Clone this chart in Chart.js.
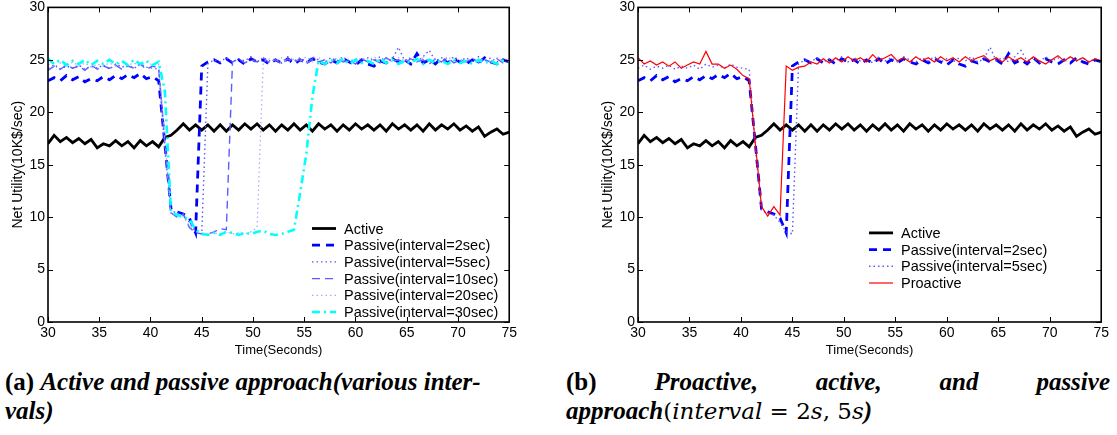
<!DOCTYPE html>
<html lang="en">
<head>
    <meta charset="UTF-8">
    <title>Net Utility - Active, Passive and Proactive</title>
    <script src="https://cdn.jsdelivr.net/npm/chart.js"></script>
    <style>
        body {
            margin: 0;
            background: #fff;
            width: 1117px;
            height: 435px;
            position: relative;
            overflow: hidden;
        }
        .chart-box {
            position: absolute;
            top: -4px;
            width: 520px;
            height: 364px;
        }
        #boxA { left: 0; }
        #boxB { left: 590px; width: 522px; }
        .caption {
            position: absolute;
            font-family: "Liberation Serif", "Times New Roman", serif;
            font-size: 25px;
            font-weight: bold;
            line-height: 29px;
            color: #000;
        }
        #capA { left: 5px; top: 367px; }
        #capB { left: 566px; top: 367px; width: 544px; }
        #capB .first { text-align: justify; text-align-last: justify; }
        .math { font-weight: normal; font-family: "DejaVu Serif", serif; font-size: 23px; }
    </style>
</head>
<body>

    <div class="chart-box" id="boxA"><canvas id="chartA"></canvas></div>
    <div class="chart-box" id="boxB"><canvas id="chartB"></canvas></div>

    <div class="caption" id="capA">(a) <i>Active and passive approach(various inter-<br>vals)</i></div>
    <div class="caption" id="capB">
        <div class="first">(b) <i>Proactive, active, and passive</i></div>
        <div><i>approach</i><span class="math">(<i>interval</i> = 2<i>s</i>, 5<i>s</i></span><i>)</i></div>
    </div>

    <script>
        // sample times (seconds)
        const times = [30,30.6,31.2,31.8,32.4,33,33.6,34.2,34.8,35.4,
            36,36.6,37.2,37.8,38.4,39,39.6,40.2,40.8,41.4,
            42,42.6,43.2,43.8,44.4,45,45.6,46.2,46.8,47.4,
            48,48.6,49.2,49.8,50.4,51,51.6,52.2,52.8,53.4,
            54,54.6,55.2,55.8,56.4,57,57.6,58.2,58.8,59.4,
            60,60.6,61.2,61.8,62.4,63,63.6,64.2,64.8,65.4,
            66,66.6,67.2,67.8,68.4,69,69.6,70.2,70.8,71.4,
            72,72.6,73.2,73.8,74.4,75];

        // net utility (10K$/sec)
        const active = [17.0,17.8,17.2,17.6,17.1,17.5,17.0,17.4,16.6,17.0,
            16.8,17.3,16.8,17.2,16.6,17.3,16.8,17.2,16.7,17.6,
            17.8,18.3,18.9,18.3,18.8,18.3,18.8,18.2,18.8,18.2,
            18.8,18.3,18.9,18.4,18.9,18.3,18.8,18.2,18.8,18.3,
            18.9,18.3,18.8,18.2,18.9,18.4,18.8,18.2,18.8,18.3,
            18.9,18.4,18.8,18.3,18.8,18.2,18.9,18.4,18.8,18.3,
            18.8,18.2,18.9,18.3,18.8,18.4,18.9,18.3,18.7,18.2,
            18.6,17.7,18.1,18.4,17.9,18.1];

        const passive2 = [23.0,23.3,23.0,23.5,23.1,23.4,22.9,23.2,23.0,23.4,
            23.1,23.5,23.2,23.6,23.3,23.7,23.2,23.4,23.0,17.0,
            10.8,10.5,10.3,9.9,8.5,24.4,24.8,25.0,24.7,25.1,
            24.7,25.0,24.6,25.1,24.8,25.0,24.6,25.0,24.7,25.1,
            24.6,25.0,24.7,25.1,24.8,24.6,25.0,24.7,25.1,24.8,
            24.5,25.0,24.6,24.4,24.9,24.7,25.1,24.8,25.0,24.6,
            25.6,24.7,25.0,24.6,25.2,24.7,25.1,24.8,24.6,25.0,
            24.7,25.2,24.8,24.6,25.0,24.8];

        const passive5 = [24.2,24.5,24.1,24.4,24.2,24.5,24.1,24.4,24.2,24.5,
            24.1,24.6,24.3,24.5,24.2,24.6,24.3,24.2,24.1,16.5,
            10.6,10.4,10.2,9.5,8.6,8.4,24.6,25.0,24.8,25.2,
            24.8,25.1,24.9,25.3,24.8,25.2,24.9,25.1,24.7,25.3,
            24.9,25.2,24.8,25.3,25.0,24.8,25.2,24.9,25.3,24.8,
            25.1,24.8,25.2,24.9,25.3,24.8,25.1,26.2,24.9,25.2,
            24.8,25.3,25.9,24.9,25.2,24.8,25.3,24.9,25.2,24.8,
            25.3,24.9,25.2,24.8,25.1,24.9];

        const passive10 = [24.0,24.4,24.1,24.5,24.2,24.4,24.0,24.5,24.1,24.4,
            24.2,24.5,24.1,24.4,24.2,24.6,24.1,24.4,24.2,17.2,
            10.4,10.0,10.3,9.0,8.5,8.4,8.4,8.6,8.9,8.8,
            24.8,25.1,24.7,25.0,24.8,25.2,24.7,25.0,24.6,25.1,
            24.8,25.0,24.6,25.1,24.8,25.0,24.7,25.2,24.8,25.0,
            24.6,25.1,24.8,25.0,24.7,25.2,24.8,25.0,24.7,25.1,
            24.8,25.0,24.6,25.1,24.8,25.2,24.7,25.0,24.8,25.1,
            24.7,25.0,24.8,25.1,24.7,24.9];

        const passive20 = [24.6,24.3,24.7,24.4,24.8,24.4,24.7,24.3,24.6,24.4,
            24.7,24.4,24.8,24.5,24.7,24.4,24.8,24.5,24.6,17.5,
            10.3,10.2,10.0,9.2,8.6,8.5,8.4,8.5,8.4,8.6,
            8.4,8.5,8.4,8.6,9.0,24.8,25.1,24.9,25.2,24.8,
            25.1,24.9,25.3,24.8,25.2,25.0,24.8,25.2,24.9,25.1,
            24.8,25.2,24.9,25.3,24.9,25.1,24.8,25.2,24.9,25.1,
            24.8,25.2,24.9,25.1,24.8,25.3,24.9,25.1,24.8,25.2,
            24.9,25.1,24.8,25.2,24.9,25.0];

        const passive30 = [25.1,24.6,25.0,24.5,24.9,24.6,25.0,24.5,24.9,24.6,
            25.0,24.6,24.9,24.5,25.0,24.6,24.9,24.5,24.8,22.0,
            10.5,10.2,10.0,9.8,8.8,8.4,8.3,8.5,8.3,8.6,
            8.5,8.3,8.5,8.4,8.6,8.7,8.4,8.3,8.4,8.6,
            8.8,12.3,16.0,21.5,24.9,24.6,25.0,24.7,25.1,24.6,
            25.0,24.7,24.9,24.6,25.1,24.7,25.0,24.6,24.9,24.7,
            25.1,24.6,25.0,24.7,24.9,24.6,25.0,24.7,24.9,24.6,
            25.0,24.7,24.9,24.6,24.9,24.8];

        const proactive = [25.2,24.6,24.9,24.5,24.8,24.4,24.8,24.2,24.5,24.8,
            24.6,25.8,24.6,24.6,24.2,24.5,24.1,23.5,23.2,17.0,
            11.0,10.1,11.0,10.2,24.4,24.0,24.3,24.4,24.8,24.6,
            25.1,24.7,25.2,24.8,25.3,24.9,25.2,24.8,25.5,24.9,
            25.2,25.5,24.9,25.2,24.8,25.3,24.9,25.2,24.8,25.3,
            24.9,25.2,24.8,25.3,24.9,25.2,25.4,24.9,25.2,24.8,
            25.3,24.9,25.2,24.8,25.3,24.9,24.6,25.0,25.4,24.9,
            25.3,24.9,25.2,24.8,25.1,24.9];

        const xTicks = [30, 35, 40, 45, 50, 55, 60, 65, 70, 75];
        const yTicks = [0, 5, 10, 15, 20, 25, 30];

        const FONT = '"Liberation Sans", Arial, Helvetica, sans-serif';

        function line(label, vals, color, width, dash, order) {
            return {
                label: label,
                data: times.map((t, i) => ({ x: t, y: vals[i] })),
                borderColor: color,
                borderWidth: width,
                borderDash: dash,
                pointRadius: 0,
                tension: 0,
                fill: false,
                order: order
            };
        }

        // box + inward tick marks on all four sides (matlab style)
        const frameTicks = {
            id: 'frameTicks',
            afterDatasetsDraw(chart) {
                const ctx = chart.ctx, a = chart.chartArea;
                const x = chart.scales.x, y = chart.scales.y;
                ctx.save();
                ctx.strokeStyle = '#000';
                ctx.lineWidth = 1;
                ctx.beginPath();
                x.ticks.forEach(t => {
                    const px = Math.round(x.getPixelForValue(t.value)) + 0.5;
                    ctx.moveTo(px, a.bottom); ctx.lineTo(px, a.bottom - 5);
                    ctx.moveTo(px, a.top); ctx.lineTo(px, a.top + 5);
                });
                y.ticks.forEach(t => {
                    const py = Math.round(y.getPixelForValue(t.value)) + 0.5;
                    ctx.moveTo(a.left, py); ctx.lineTo(a.left + 5, py);
                    ctx.moveTo(a.right, py); ctx.lineTo(a.right - 5, py);
                });
                ctx.stroke();
                ctx.lineWidth = 1.6;
                ctx.strokeRect(a.left, a.top, a.right - a.left, a.bottom - a.top);
                ctx.restore();
            }
        };

        // legend drawn inside the plot area, no box
        const innerLegend = {
            id: 'innerLegend',
            afterDraw(chart, args, opts) {
                const ctx = chart.ctx, a = chart.chartArea;
                const sets = chart.data.datasets;
                const x0 = a.left + opts.dx;
                let y0 = a.bottom - opts.dy - (sets.length - 1) * opts.rowH;
                ctx.save();
                ctx.font = '14.5px ' + FONT;
                ctx.textBaseline = 'middle';
                ctx.fillStyle = '#000';
                sets.forEach(ds => {
                    ctx.beginPath();
                    ctx.strokeStyle = ds.borderColor;
                    ctx.lineWidth = ds.borderWidth;
                    ctx.setLineDash(ds.borderDash || []);
                    ctx.moveTo(x0, y0);
                    ctx.lineTo(x0 + 24, y0);
                    ctx.stroke();
                    ctx.setLineDash([]);
                    ctx.fillText(ds.label, x0 + 32, y0 + 1);
                    y0 += opts.rowH;
                });
                ctx.restore();
            }
        };

        function makeOptions(legendPos) {
            return {
                responsive: true,
                maintainAspectRatio: false,
                animation: false,
                layout: { padding: { left: 0, right: 10, top: 5, bottom: 0 } },
                plugins: {
                    legend: { display: false },
                    tooltip: { enabled: false },
                    innerLegend: legendPos
                },
                scales: {
                    x: {
                        type: 'linear',
                        min: 30,
                        max: 75,
                        afterBuildTicks: s => { s.ticks = xTicks.map(v => ({ value: v })); },
                        afterFit: s => { s.height = 38; },
                        grid: { display: false, drawTicks: false },
                        border: { display: false },
                        ticks: { color: '#000', padding: 3, maxRotation: 0, font: { family: FONT, size: 14 } },
                        title: {
                            display: true,
                            text: 'Time(Seconds)',
                            color: '#000',
                            padding: { top: 0, bottom: 2 },
                            font: { family: FONT, size: 13 }
                        }
                    },
                    y: {
                        min: 0,
                        max: 30,
                        afterBuildTicks: s => { s.ticks = yTicks.map(v => ({ value: v })); },
                        afterFit: s => { s.width = 48; },
                        grid: { display: false, drawTicks: false },
                        border: { display: false },
                        ticks: { color: '#000', padding: 3, font: { family: FONT, size: 14 } },
                        title: {
                            display: true,
                            text: 'Net Utility(10K$/sec)',
                            color: '#000',
                            padding: { top: 10, bottom: 0 },
                            font: { family: FONT, size: 14 }
                        }
                    }
                }
            };
        }

        new Chart(document.getElementById('chartA'), {
            type: 'line',
            data: {
                datasets: [
                    line('Active', active, '#000000', 2.8, [], 6),
                    line('Passive(interval=2sec)', passive2, '#0000ff', 2.8, [8, 6], 5),
                    line('Passive(interval=5sec)', passive5, '#5a5aff', 1.4, [1.5, 3], 4),
                    line('Passive(interval=10sec)', passive10, '#5c5cff', 1.4, [8, 5], 3),
                    line('Passive(interval=20sec)', passive20, '#a8a8ff', 1.2, [1.5, 3], 2),
                    line('Passive(interval=30sec)', passive30, '#00ffff', 2.6, [8, 4, 2, 4], 1)
                ]
            },
            options: makeOptions({ dx: 264, dy: 10, rowH: 16.7 }),
            plugins: [frameTicks, innerLegend]
        });

        new Chart(document.getElementById('chartB'), {
            type: 'line',
            data: {
                datasets: [
                    line('Active', active, '#000000', 2.8, [], 4),
                    line('Passive(interval=2sec)', passive2, '#0000ff', 2.8, [8, 6], 3),
                    line('Passive(interval=5sec)', passive5, '#5a5aff', 1.4, [1.5, 3], 2),
                    line('Proactive', proactive, '#ff0000', 1.2, [], 1)
                ]
            },
            options: makeOptions({ dx: 231, dy: 39, rowH: 16.7 }),
            plugins: [frameTicks, innerLegend]
        });
    </script>

</body>
</html>
